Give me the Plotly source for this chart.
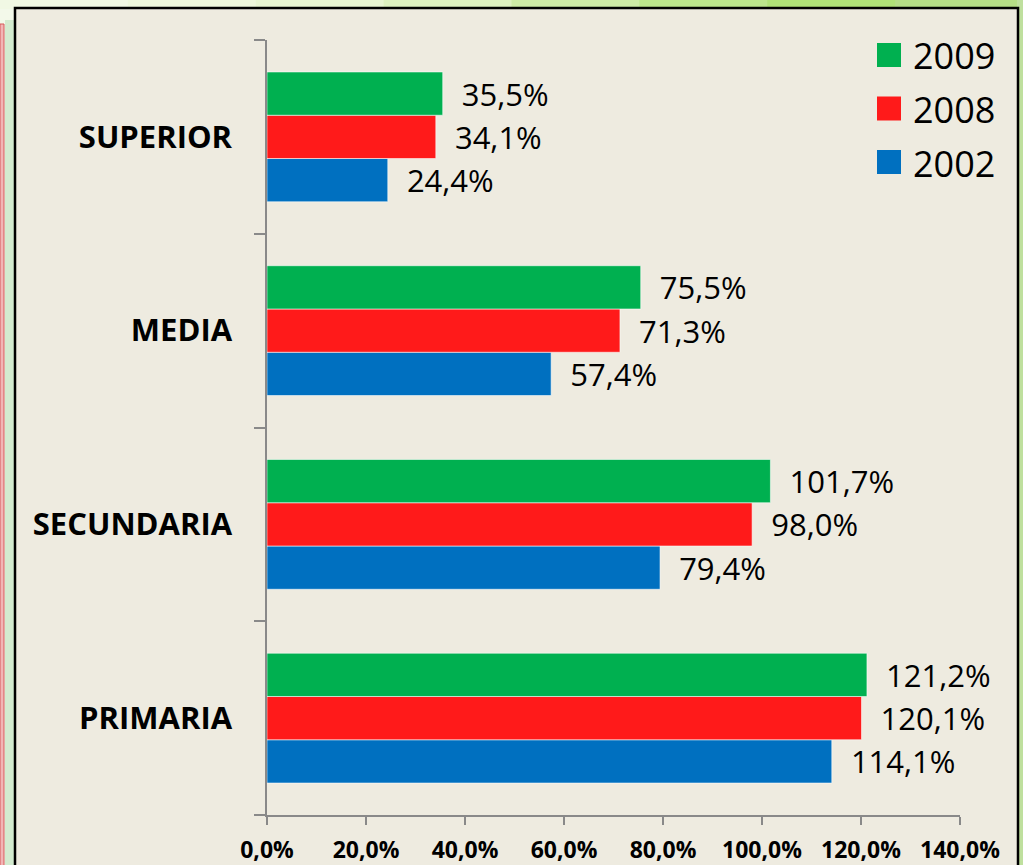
import plotly.graph_objects as go

# ---- data ----
categories = ["PRIMARIA", "SECUNDARIA", "MEDIA", "SUPERIOR"]   # bottom -> top
years = ["2002", "2008", "2009"]
values_2002 = [114.1, 79.4, 57.4, 24.4]
values_2008 = [120.1, 98.0, 71.3, 34.1]
values_2009 = [121.2, 101.7, 75.5, 35.5]
colors = {"2002": "#0070C0", "2008": "#FF1A1A", "2009": "#00B050"}
series = {"2002": values_2002, "2008": values_2008, "2009": values_2009}
x_ticks = [0, 20, 40, 60, 80, 100, 120, 140]
x_ticktext = ["0,0%", "20,0%", "40,0%", "60,0%", "80,0%", "100,0%", "120,0%", "140,0%"]

W, H = 1023, 865
L, R, T, B = 267, 960, 40, 815


def px_x(p):
    return (p - L) / (R - L)


def px_y(p):
    return (B - p) / (B - T)


fig = go.Figure()
for yr in years:
    fig.add_trace(go.Bar(
        y=categories, x=series[yr], name=yr, orientation="h",
        marker=dict(color=colors[yr], line=dict(color="rgba(255,255,255,0.55)", width=1)),
        texttemplate="\u00a0\u00a0%{x:.1f}%", textposition="outside",
        textfont=dict(family="Open Sans", size=31, color="black"),
        cliponaxis=False, showlegend=False, hoverinfo="skip",
    ))

shapes = []
# top gradient strip (light yellow-green -> green on the right)
grad = ["#F1F8E4", "#EEF7DC", "#E8F5D2", "#DDF1C0", "#CDEBA6", "#BCE68C", "#B0E277", "#B5DE86"]
step = W / len(grad)
for i, c in enumerate(grad):
    shapes.append(dict(type="rect", xref="paper", yref="paper",
                       x0=px_x(i * step), x1=px_x((i + 1) * step + 1), y0=px_y(0), y1=px_y(9),
                       fillcolor=c, line=dict(width=0), layer="below"))
shapes += [
    dict(type="rect", xref="paper", yref="paper", x0=px_x(1017), x1=px_x(1023), y0=px_y(0), y1=px_y(870),
         fillcolor="#BFE09E", line=dict(width=0), layer="below"),
    dict(type="rect", xref="paper", yref="paper", x0=px_x(0), x1=px_x(4), y0=px_y(24), y1=px_y(870),
         fillcolor="#F2B5B5", line=dict(color="#D45A5A", width=1), layer="below"),
    dict(type="rect", xref="paper", yref="paper", x0=px_x(5), x1=px_x(14), y0=px_y(20), y1=px_y(870),
         fillcolor="#D3EBCF", line=dict(width=0), layer="below"),
    # chart frame
    dict(type="rect", xref="paper", yref="paper", x0=px_x(15), x1=px_x(1018), y0=px_y(8), y1=px_y(875),
         fillcolor="#EEEBE0", line=dict(color="black", width=2.5), layer="below"),
]

annotations = []
legend_order = ["2009", "2008", "2002"]
for i, yr in enumerate(legend_order):
    cy = 55 + i * 53.5
    shapes.append(dict(type="rect", xref="paper", yref="paper",
                       x0=px_x(877), x1=px_x(901), y0=px_y(cy - 12), y1=px_y(cy + 12),
                       fillcolor=colors[yr], line=dict(width=0)))
    annotations.append(dict(xref="paper", yref="paper", x=px_x(911), y=px_y(cy + 1),
                            text=yr, showarrow=False, xanchor="left", yanchor="middle",
                            font=dict(family="Open Sans", size=36, color="black")))

fig.update_layout(
    width=W, height=H,
    margin=dict(l=L, r=W - R, t=T, b=H - B, autoexpand=False),
    paper_bgcolor="#F3F9EA", plot_bgcolor="rgba(0,0,0,0)",
    barmode="group", bargap=0.33, bargroupgap=0,
    separators=",.",
    shapes=shapes, annotations=annotations,
    xaxis=dict(range=[0, 140], tickvals=x_ticks, ticktext=x_ticktext, automargin=False,
               showgrid=False, zeroline=False, showline=True, linecolor="#898989", linewidth=1.5,
               ticks="outside", ticklen=8, tickcolor="#898989", tickwidth=1.5,
               ticklabelstandoff=6,
               tickfont=dict(family="Open Sans", size=23, color="black", weight="bold")),
    yaxis=dict(categoryorder="array", categoryarray=categories, automargin=False,
               showgrid=False, zeroline=False, showline=True, linecolor="#898989", linewidth=1.5,
               ticks="outside", ticklen=11, tickcolor="#898989", tickwidth=1.5, tickson="boundaries",
               ticklabelstandoff=27,
               tickfont=dict(family="Open Sans", size=31, color="black", weight="bold")),
    font=dict(family="Open Sans"),
)

fig.write_html("out.html", config={"displayModeBar": False},
               post_script="document.body.style.margin='0';document.body.style.overflow='hidden';")
